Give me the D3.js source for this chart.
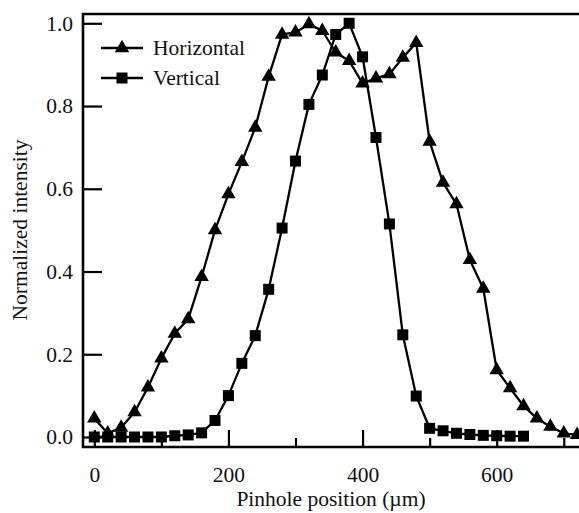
<!DOCTYPE html>
<html>
<head>
<meta charset="utf-8">
<script src="https://cdn.jsdelivr.net/npm/d3@7"></script>
</head>
<body style="margin:0; background:#fff">
<script>
// pinhole positions (um) and normalized intensities
var posH = [0, 20, 40, 60, 80, 100, 120, 140, 160, 180, 200, 220, 240, 260, 280, 300, 320, 340,
            360, 380, 400, 420, 440, 460, 480, 500, 520, 540, 560, 580, 600, 620, 640, 660, 680, 700, 720];
var horizontal = [0.045, 0.009, 0.023, 0.06, 0.12, 0.19, 0.25, 0.285, 0.387, 0.5, 0.587, 0.665, 0.748,
                  0.871, 0.973, 0.978, 0.998, 0.982, 0.93, 0.909, 0.855, 0.867, 0.877, 0.917, 0.953,
                  0.714, 0.615, 0.563, 0.428, 0.359, 0.162, 0.118, 0.075, 0.045, 0.025, 0.009, 0.005];

var posV = [0, 20, 40, 60, 80, 100, 120, 140, 160, 180, 200, 220, 240, 260, 280, 300, 320, 340,
            360, 380, 400, 420, 440, 460, 480, 500, 520, 540, 560, 580, 600, 620, 640];
var vertical = [0, 0, 0, 0, 0, 0, 0.003, 0.005, 0.01, 0.04, 0.1, 0.178, 0.245, 0.357, 0.505, 0.667,
                0.804, 0.875, 0.973, 1.0, 0.919, 0.724, 0.515, 0.247, 0.099, 0.021, 0.015, 0.009,
                0.006, 0.004, 0.003, 0.002, 0.002];

var xTicks = [0, 200, 400, 600];
var xMinor = [100, 300, 500, 700];
var yTicks = [0, 0.2, 0.4, 0.6, 0.8, 1.0];

var W = 579, H = 513;
var frame = {left: 83, top: 14, bottom: 447, right: 620};
var font = "'Liberation Serif'";
var fontSize = "21.5px";

var x = d3.scaleLinear().domain([0, 600]).range([94.3, 496.7]);
var y = d3.scaleLinear().domain([0, 1]).range([437, 23.3]);

var svg = d3.select("body").append("svg")
    .attr("width", W)
    .attr("height", H);

var line = d3.line()
    .x(d => x(d[0]))
    .y(d => y(d[1]));

var hData = posH.map((p, i) => [p, horizontal[i]]);
var vData = posV.map((p, i) => [p, vertical[i]]);

var tri = d3.symbol().type(d3.symbolTriangle).size(90);
var sq = d3.symbol().type(d3.symbolSquare).size(121);

// series
[hData, vData].forEach(function(data) {
    svg.append("path")
        .datum(data)
        .attr("fill", "none")
        .attr("stroke", "#000")
        .attr("stroke-width", 2.3)
        .attr("stroke-linejoin", "round")
        .attr("d", line);
});

svg.append("g")
    .selectAll("path")
    .data(hData)
    .enter()
    .append("path")
    .attr("transform", d => "translate(" + x(d[0]) + "," + y(d[1]) + ")")
    .attr("d", tri)
    .attr("fill", "#000");

svg.append("g")
    .selectAll("path")
    .data(vData)
    .enter()
    .append("path")
    .attr("transform", d => "translate(" + x(d[0]) + "," + y(d[1]) + ")")
    .attr("d", sq)
    .attr("fill", "#000");

// frame
svg.append("path")
    .attr("d", "M" + frame.right + "," + frame.top + "H" + frame.left + "V" + frame.bottom + "H" + frame.right)
    .attr("fill", "none")
    .attr("stroke", "#000")
    .attr("stroke-width", 2.6);

// axes, ticks inward
var xAxis = d3.axisBottom(x).tickValues(xTicks).tickSize(-17).tickPadding(0).tickFormat(d3.format("d"));
var gx = svg.append("g")
    .attr("transform", "translate(0," + frame.bottom + ")")
    .call(xAxis);
gx.select(".domain").remove();
gx.selectAll(".tick line").attr("stroke", "#000").attr("stroke-width", 2.2);
gx.selectAll(".tick text")
    .attr("y", 35)
    .attr("dy", 0)
    .attr("fill", "#111")
    .style("font-family", font)
    .style("font-size", fontSize);

var gxm = svg.append("g")
    .attr("transform", "translate(0," + frame.bottom + ")")
    .call(d3.axisBottom(x).tickValues(xMinor).tickSize(-9).tickFormat(""));
gxm.select(".domain").remove();
gxm.selectAll(".tick line").attr("stroke", "#000").attr("stroke-width", 2.2);

var yAxis = d3.axisLeft(y).tickValues(yTicks).tickSize(-19).tickFormat(d3.format(".1f"));
var gy = svg.append("g")
    .attr("transform", "translate(" + frame.left + ",0)")
    .call(yAxis);
gy.select(".domain").remove();
gy.selectAll(".tick line").attr("stroke", "#000").attr("stroke-width", 2.2);
gy.selectAll(".tick text")
    .attr("x", -10)
    .attr("fill", "#111")
    .style("font-family", font)
    .style("font-size", fontSize);

// axis titles
svg.append("text")
    .attr("x", 331)
    .attr("y", 506)
    .attr("fill", "#111")
    .style("text-anchor", "middle")
    .style("font-family", font)
    .style("font-size", fontSize)
    .text("Pinhole position (\u00b5m)");

svg.append("text")
    .attr("transform", "rotate(-90)")
    .attr("x", -230)
    .attr("y", 27)
    .attr("fill", "#111")
    .style("text-anchor", "middle")
    .style("font-family", font)
    .style("font-size", fontSize)
    .text("Normalized intensity");

// legend
var legend = [["Horizontal", tri, 48], ["Vertical", sq, 78]];
legend.forEach(function(l) {
    svg.append("line")
        .attr("x1", 101).attr("x2", 143)
        .attr("y1", l[2]).attr("y2", l[2])
        .attr("stroke", "#000").attr("stroke-width", 2.3);
    svg.append("path")
        .attr("transform", "translate(122," + l[2] + ")")
        .attr("d", l[1])
        .attr("fill", "#000");
    svg.append("text")
        .attr("x", 153)
        .attr("y", l[2] + 7)
        .attr("fill", "#111")
        .style("font-family", font)
        .style("font-size", fontSize)
        .text(l[0]);
});
</script>
</body>
</html>
